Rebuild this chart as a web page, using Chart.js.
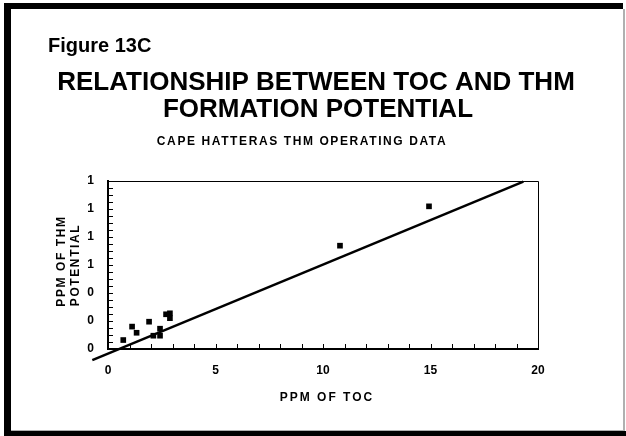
<!DOCTYPE html>
<html>
<head>
<meta charset="utf-8">
<script src="https://cdn.jsdelivr.net/npm/chart.js@4/dist/chart.umd.min.js"></script>
<style>
  body { margin: 0; background: #fff; }
  canvas { display: block; }
</style>
</head>
<body>
<canvas id="fig13c" width="626" height="436"></canvas>
<script>
// Values
const tocPpm = [0.71, 1.12, 1.33, 1.91, 2.11, 2.42, 2.42, 2.70, 2.88, 2.88, 10.79, 14.93];
const thmPpm = [0.064, 0.16, 0.116, 0.195, 0.095, 0.145, 0.095, 0.248, 0.255, 0.22, 0.738, 1.019];

// Fitted line end points
const fitToc = [-0.73, 19.32];
const fitThm = [-0.08, 1.195];

// Tick labels as printed
const xTickLabels = ["0", "5", "10", "15", "20"];
const yTickLabels = ["0", "0", "0", "1", "1", "1", "1"];

const FONT = "'Liberation Sans', Arial, sans-serif";

const points = tocPpm.map((x, i) => ({ x: x, y: thmPpm[i] }));
const fit = fitToc.map((x, i) => ({ x: x, y: fitThm[i] }));

// frame, page texts, inward minor ticks
const pagePlugin = {
  id: "page",
  beforeDraw(chart) {
    const c = chart.ctx;
    c.save();
    c.fillStyle = "#fff";
    c.fillRect(0, 0, chart.width, chart.height);
    c.fillStyle = "#000";
    c.fillRect(4, 3, 619, 6);
    c.fillRect(4, 3, 7, 433);
    c.fillRect(4, 431, 622, 5);
    c.fillStyle = "#b0b0b0";
    c.fillRect(11, 430, 613, 1);
    c.fillRect(623, 9, 2, 422);
    c.restore();
  },
  afterDraw(chart) {
    const c = chart.ctx;
    const a = chart.chartArea;
    const xs = chart.scales.x, ys = chart.scales.y;
    c.save();
    c.strokeStyle = "#000";
    c.lineWidth = 1;
    c.beginPath();
    c.moveTo(a.left, a.top + 0.5);
    c.lineTo(a.right + 0.5, a.top + 0.5);
    c.lineTo(a.right + 0.5, a.bottom);
    for (let v = 1; v < 20; v++) {
      const px = Math.round(xs.getPixelForValue(v)) + 0.5;
      c.moveTo(px, a.bottom);
      c.lineTo(px, a.bottom - 5);
    }
    for (let k = 1; k <= 24; k++) {
      const py = Math.round(ys.getPixelForValue(k * 0.05)) + 0.5;
      c.moveTo(a.left, py);
      c.lineTo(a.left + 5, py);
    }
    c.stroke();

    c.fillStyle = "#000";
    c.textBaseline = "alphabetic";
    c.textAlign = "left";
    c.font = "bold 20px " + FONT;
    c.fillText("Figure 13C", 48, 52);

    c.textAlign = "center";
    c.font = "bold 26px " + FONT;
    c.fillText("RELATIONSHIP BETWEEN TOC AND THM", 316, 90);
    c.fillText("FORMATION POTENTIAL", 318, 117);

    c.font = "bold 12px " + FONT;
    c.letterSpacing = "1.6px";
    c.fillText("CAPE HATTERAS THM OPERATING DATA", 302, 145);

    c.letterSpacing = "2px";
    c.fillText("PPM OF TOC", 327, 401);

    c.letterSpacing = "1.6px";
    c.save();
    c.translate(65, 261);
    c.rotate(-Math.PI / 2);
    c.fillText("PPM OF THM", 0, 0);
    c.restore();
    c.save();
    c.translate(79, 265);
    c.rotate(-Math.PI / 2);
    c.fillText("POTENTIAL", 0, 0);
    c.restore();
    c.restore();
  }
};

new Chart(document.getElementById("fig13c"), {
  type: "scatter",
  data: {
    datasets: [
      {
        label: "Operating data",
        data: points,
        pointStyle: "rect",
        pointRadius: 4,
        pointHoverRadius: 4,
        backgroundColor: "#000",
        borderWidth: 0
      },
      {
        type: "line",
        label: "Fit",
        data: fit,
        showLine: true,
        pointRadius: 0,
        borderColor: "#000",
        borderWidth: 2.5,
        clip: false
      }
    ]
  },
  options: {
    responsive: false,
    devicePixelRatio: 1,
    animation: false,
    layout: { padding: { left: 0, top: 181, right: 88, bottom: 0 } },
    plugins: { legend: { display: false }, tooltip: { enabled: false } },
    scales: {
      x: {
        type: "linear",
        min: 0,
        max: 20,
        afterFit(s) { s.height = 87; },
        grid: { display: false, drawTicks: false },
        border: { display: true, color: "#000", width: 2 },
        ticks: {
          stepSize: 5,
          padding: 14,
          color: "#000",
          font: { family: FONT, size: 12, weight: "bold" },
          callback: (v, i) => xTickLabels[i]
        }
      },
      y: {
        type: "linear",
        min: 0,
        max: 1.2,
        afterFit(s) { s.width = 108; },
        grid: { display: false, drawTicks: false },
        border: { display: true, color: "#000", width: 2 },
        ticks: {
          stepSize: 0.2,
          padding: 14,
          color: "#000",
          font: { family: FONT, size: 12, weight: "bold" },
          callback: (v, i) => yTickLabels[i]
        }
      }
    }
  },
  plugins: [pagePlugin]
});
</script>
</body>
</html>
